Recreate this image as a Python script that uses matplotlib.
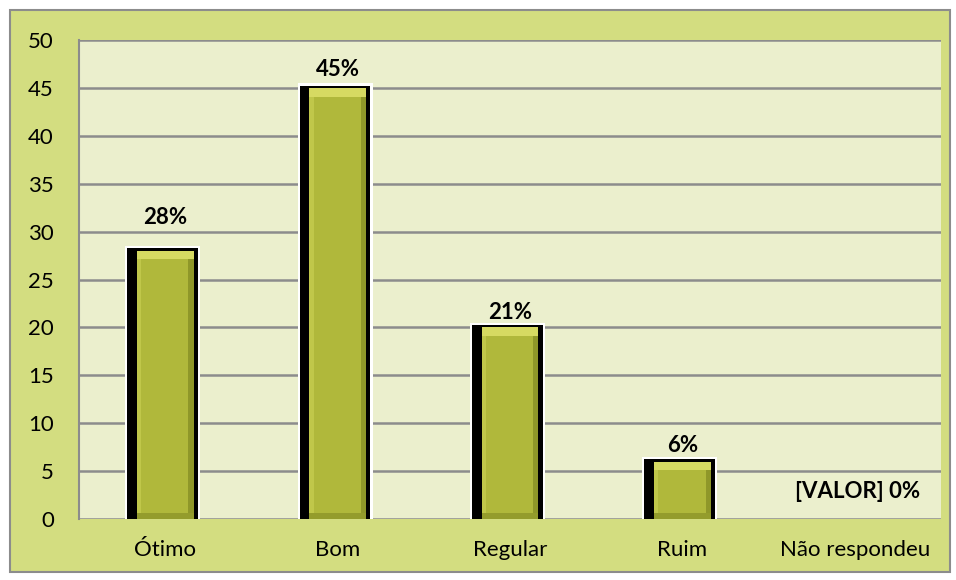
import matplotlib.pyplot as plt
import matplotlib.patches as mpatches

# chart data
categorias = ['Ótimo', 'Bom', 'Regular', 'Ruim', 'Não respondeu']
valores = [28, 45, 20, 6, 0]
rotulos = ['28%', '45%', '21%', '6%', '[VALOR] 0%']

plt.rcParams['font.family'] = ['Lato', 'DejaVu Sans']

fig = plt.figure(figsize=(9.56, 5.80), dpi=100)
fig.patch.set_facecolor('white')
# outer chart frame
fig.patches.append(mpatches.Rectangle((10 / 956, 8 / 580), 940 / 956, 562 / 580,
                                      transform=fig.transFigure, facecolor='#d3dd80',
                                      edgecolor='#8c8c8c', linewidth=1.5, zorder=-10))

ax = fig.add_axes([79 / 956, 61 / 580, 862 / 956, 479 / 580])
ax.set_zorder(1)
ax.set_facecolor('#ebefcd')
x = list(range(len(categorias)))

ax.set_ylim(0, 50)
ax.set_xlim(-0.5, len(categorias) - 0.5)
ax.set_yticks(range(0, 51, 5))
ax.yaxis.grid(True, color='#8c8c8c', linewidth=1.8)
ax.set_axisbelow(True)
for s in ['top', 'right', 'bottom']:
    ax.spines[s].set_visible(False)
ax.spines['left'].set_color('#8c8c8c')
ax.spines['left'].set_linewidth(1.5)
ax.tick_params(axis='both', length=0, labelsize=16, colors='black')
ax.tick_params(axis='y', pad=18)
ax.tick_params(axis='x', pad=15)
ax.set_xticks(x)
ax.set_xticklabels(categorias)

bars = [v for v in valores]
has = [v > 0 for v in bars]
# white halo, black shadow, green body with bevel
ax.bar([i - 0.015 for i in x], [v + 0.5 if h else 0 for v, h in zip(bars, has)],
       width=0.435, color='white', zorder=2)
ax.bar([i - 0.015 for i in x], [v + 0.25 if h else 0 for v, h in zip(bars, has)],
       width=0.41, color='black', zorder=3)
ax.bar(x, bars, width=0.33, color='#b0b83b', zorder=4)
# bevel edges
ax.bar([i + 0.15 for i in x], bars, width=0.03, color='#8f9729', zorder=5)
ax.bar([i - 0.152 for i in x], bars, width=0.026, color='#c0c74a', zorder=5)
ax.bar(x, [0.6 if h else 0 for h in has], width=0.33, color='#949c2c', zorder=5)
ax.bar(x, [0.9 if h else 0 for h in has], bottom=[v - 0.9 for v in bars],
       width=0.33, color='#d6da62', zorder=6)

label_offsets = [(0, 33), (0, 18), (0, 15), (0, 16), (65, 27)]
for i, v, r, off in zip(x, valores, rotulos, label_offsets):
    ax.annotate(r, (i, v), xytext=off, textcoords='offset pixels',
                ha='center' if v > 0 else 'right', va='center',
                fontsize=16, fontweight='bold')

fig.savefig('out.png', dpi=100)
